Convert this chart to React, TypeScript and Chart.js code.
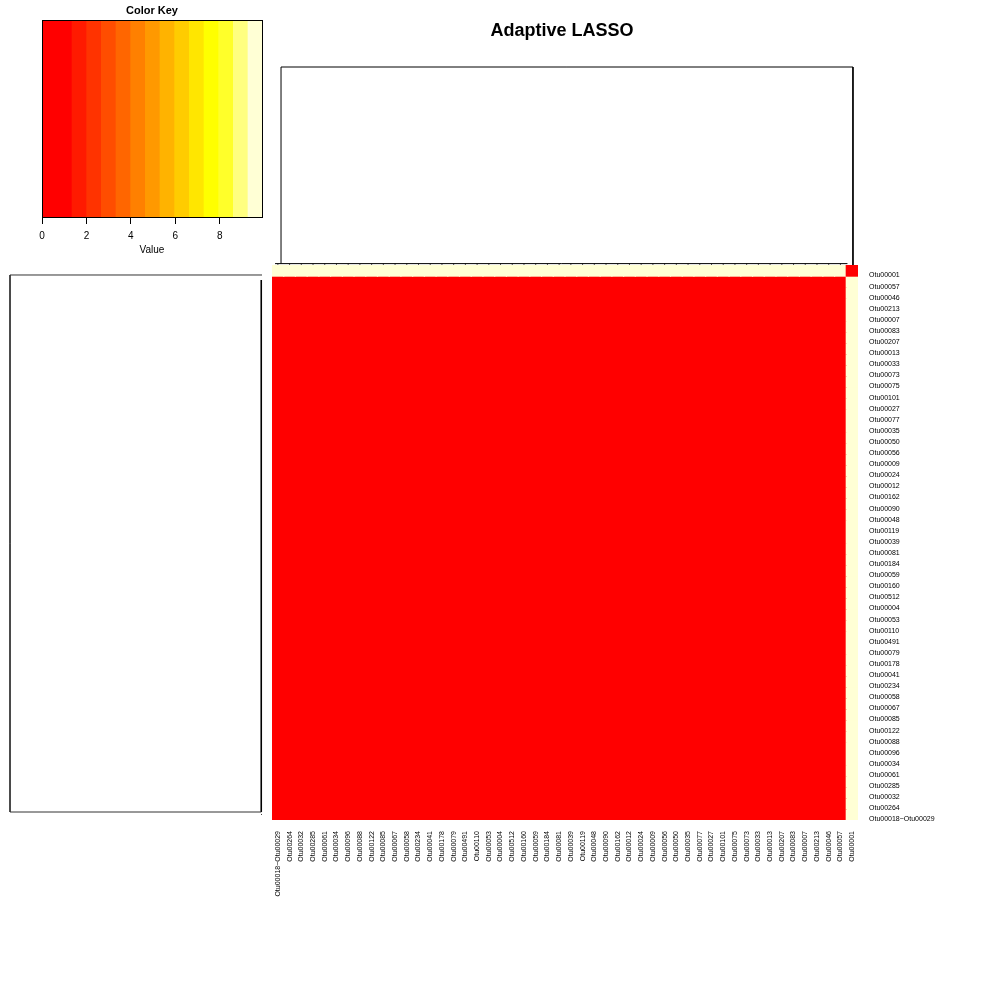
import React, { useEffect, useRef } from "react";
import { Chart, registerables } from "chart.js";

Chart.register(...registerables);

const FONT = "'Liberation Sans', Arial, Helvetica, sans-serif";
Chart.defaults.font.family = FONT;
Chart.defaults.color = "#000";

// ---------------- data ----------------
const rowLabels = [
  "Otu00001", "Otu00057", "Otu00046", "Otu00213", "Otu00007", "Otu00083", "Otu00207", "Otu00013", "Otu00033", "Otu00073",
  "Otu00075", "Otu00101", "Otu00027", "Otu00077", "Otu00035", "Otu00050", "Otu00056", "Otu00009", "Otu00024", "Otu00012",
  "Otu00162", "Otu00090", "Otu00048", "Otu00119", "Otu00039", "Otu00081", "Otu00184", "Otu00059", "Otu00160", "Otu00512",
  "Otu00004", "Otu00053", "Otu00110", "Otu00491", "Otu00079", "Otu00178", "Otu00041", "Otu00234", "Otu00058", "Otu00067",
  "Otu00085", "Otu00122", "Otu00088", "Otu00096", "Otu00034", "Otu00061", "Otu00285", "Otu00032", "Otu00264", "Otu00018~Otu00029",
];

const colLabels = [
  "Otu00018~Otu00029", "Otu00264", "Otu00032", "Otu00285", "Otu00061", "Otu00034", "Otu00096", "Otu00088", "Otu00122", "Otu00085",
  "Otu00067", "Otu00058", "Otu00234", "Otu00041", "Otu00178", "Otu00079", "Otu00491", "Otu00110", "Otu00053", "Otu00004",
  "Otu00512", "Otu00160", "Otu00059", "Otu00184", "Otu00081", "Otu00039", "Otu00119", "Otu00048", "Otu00090", "Otu00162",
  "Otu00012", "Otu00024", "Otu00009", "Otu00056", "Otu00050", "Otu00035", "Otu00077", "Otu00027", "Otu00101", "Otu00075",
  "Otu00073", "Otu00033", "Otu00013", "Otu00207", "Otu00083", "Otu00007", "Otu00213", "Otu00046", "Otu00057", "Otu00001",
];

// values of the Otu00001 row, left to right over the columns
const otu00001RowValues = [
  9.8, 9.8, 9.8, 9.8, 9.8, 9.8, 9.8, 9.8, 9.8, 9.8,
  9.8, 9.8, 9.8, 9.8, 9.8, 9.8, 9.8, 9.8, 9.8, 9.8,
  9.8, 9.8, 9.8, 9.8, 9.8, 9.8, 9.8, 9.8, 9.8, 9.8,
  9.8, 9.8, 9.8, 9.8, 9.8, 9.8, 9.8, 9.8, 9.8, 9.8,
  9.8, 9.8, 9.8, 9.8, 9.8, 9.8, 9.8, 9.8, 9.8, 0,
];
// values of the Otu00001 column, top to bottom over the rows
const otu00001ColumnValues = [
  0, 9.8, 9.8, 9.8, 9.8, 9.8, 9.8, 9.8, 9.8, 9.8,
  9.8, 9.8, 9.8, 9.8, 9.8, 9.8, 9.8, 9.8, 9.8, 9.8,
  9.8, 9.8, 9.8, 9.8, 9.8, 9.8, 9.8, 9.8, 9.8, 9.8,
  9.8, 9.8, 9.8, 9.8, 9.8, 9.8, 9.8, 9.8, 9.8, 9.8,
  9.8, 9.8, 9.8, 9.8, 9.8, 9.8, 9.8, 9.8, 9.8, 9.8,
];
// every other cell
const otherCellValue = 0;

// color key
const keyBreaks = [0, 1.32, 1.98, 2.64, 3.3, 3.96, 4.62, 5.28, 5.94, 6.6, 7.26, 7.92, 8.58, 9.24, 9.9];
const keyColors = [
  "#FF0000", "#FF1A00", "#FF3300", "#FF4D00", "#FF6600", "#FF8000", "#FF9900",
  "#FFB300", "#FFCC00", "#FFE600", "#FFFF00", "#FFFF2A", "#FFFF80", "#FFFFD5",
];
const keyTicks = [0, 2, 4, 6, 8];

// column dendrogram (top): x in column units, y in merge height
const colDendroRootHeight = 1;
const colDendroClusterHeight = 0.007;
const colDendroClusterBranchX = 0.77;
const colDendroSingletonX = 49.57;
const colDendroClusterSpan = [0.26, 49.1];

// row dendrogram (left): y in row units, x in merge height
const rowDendroRootHeight = 1;
const rowDendroClusterHeight = 0.003;
const rowDendroSingletonY = 0.9;
const rowDendroClusterBranchY = 49.28;
const rowDendroClusterSpan = [1.35, 49.28];

// ---------------- layout ----------------
const HEAT_LEFT = 272;
const HEAT_RIGHT = 858;
const HEAT_TOP = 265;
const HEAT_BOTTOM = 820;

function colorFor(v: number): string {
  for (let i = 0; i < keyColors.length; i++) {
    if (v >= keyBreaks[i] && v <= keyBreaks[i + 1]) return keyColors[i];
  }
  return keyColors[keyColors.length - 1];
}

function cellValue(r: number, c: number): number {
  if (r === 0) return otu00001RowValues[c];
  if (c === colLabels.length - 1) return otu00001ColumnValues[r];
  return otherCellValue;
}

const framePlugin = {
  id: "frame",
  afterDatasetsDraw(chart: any) {
    const { ctx, chartArea: a } = chart;
    ctx.save();
    ctx.strokeStyle = "#000";
    ctx.lineWidth = 1;
    ctx.strokeRect(Math.round(a.left) + 0.5, Math.round(a.top) + 0.5, Math.round(a.right - a.left), Math.round(a.bottom - a.top));
    ctx.restore();
  },
};

function ChartCanvas(props: { left: number; top: number; width: number; height: number; make: () => any }) {
  const ref = useRef<HTMLCanvasElement | null>(null);
  useEffect(() => {
    if (!ref.current) return;
    const chart = new Chart(ref.current, props.make());
    return () => chart.destroy();
  }, []);
  return (
    <canvas
      ref={ref}
      width={props.width}
      height={props.height}
      style={{ position: "absolute", left: props.left, top: props.top, width: props.width, height: props.height }}
    />
  );
}

const lineDs = (data: any[], width = 1, color = "#000") => ({
  data,
  showLine: true,
  borderColor: color,
  borderWidth: width,
  pointRadius: 0,
  fill: false,
  spanGaps: false,
  clip: false,
});

// ---------- color key ----------
function makeKey() {
  return {
    type: "bar",
    data: {
      labels: ["key"],
      datasets: keyColors.map((col, i) => ({
        data: [[keyBreaks[i], keyBreaks[i + 1]]],
        backgroundColor: col,
        borderWidth: 0,
        grouped: false,
        barPercentage: 1,
        categoryPercentage: 1,
      })),
    },
    options: {
      indexAxis: "y",
      animation: false,
      responsive: false,
      events: [],
      layout: { padding: { left: 20, right: 20, top: 0, bottom: 0 } },
      plugins: {
        legend: { display: false },
        tooltip: { enabled: false },
        title: {
          display: true,
          text: "Color Key",
          color: "#000",
          font: { family: FONT, size: 11, weight: "bold" },
          padding: { top: 4, bottom: 2.8 },
        },
      },
      scales: {
        x: {
          type: "linear",
          min: keyBreaks[0],
          max: keyBreaks[keyBreaks.length - 1],
          position: "bottom",
          afterBuildTicks: (axis: any) => {
            axis.ticks = keyTicks.map((v) => ({ value: v }));
          },
          afterFit: (axis: any) => {
            axis.height = 45;
          },
          grid: { display: true, drawOnChartArea: false, drawTicks: true, tickLength: 7, color: "#000", lineWidth: 1 },
          border: { display: true, color: "#000" },
          ticks: { font: { family: FONT, size: 10 }, color: "#000", padding: 6, autoSkip: false, maxRotation: 0 },
          title: { display: true, text: "Value", font: { family: FONT, size: 10 }, color: "#000", padding: { top: 0, bottom: 6 } },
        },
        y: { display: false },
      },
    },
    plugins: [framePlugin],
  };
}

// ---------- heatmap ----------
function makeHeatmap() {
  const W = 738;
  const H = 745;
  const padLeft = HEAT_LEFT - 262;
  const padTop = HEAT_TOP - 255;
  return {
    type: "bar",
    data: {
      labels: colLabels,
      datasets: rowLabels.map((_, r) => ({
        data: colLabels.map(() => [r, r + 1]),
        backgroundColor: colLabels.map((_, c) => colorFor(cellValue(r, c))),
        borderWidth: 0,
        inflateAmount: 0.6,
        grouped: false,
        barPercentage: 1,
        categoryPercentage: 1,
      })),
    },
    options: {
      animation: false,
      responsive: false,
      events: [],
      layout: { padding: { left: padLeft, top: padTop, right: 0, bottom: 0 } },
      plugins: { legend: { display: false }, tooltip: { enabled: false }, title: { display: false } },
      scales: {
        x: {
          type: "category",
          position: "bottom",
          afterFit: (axis: any) => {
            axis.height = H - padTop - (HEAT_BOTTOM - HEAT_TOP);
          },
          grid: { display: false, drawTicks: true, tickLength: 11 },
          border: { display: false },
          ticks: {
            autoSkip: false,
            minRotation: 90,
            maxRotation: 90,
            padding: 0,
            font: { family: FONT, size: 7 },
            color: "#000",
          },
        },
        y: {
          type: "linear",
          position: "right",
          min: 0,
          max: rowLabels.length,
          reverse: true,
          afterBuildTicks: (axis: any) => {
            axis.ticks = rowLabels.map((_, i) => ({ value: i + 0.5 }));
          },
          afterFit: (axis: any) => {
            axis.width = W - padLeft - (HEAT_RIGHT - HEAT_LEFT);
          },
          grid: { display: false, drawTicks: true, tickLength: 11 },
          border: { display: false },
          ticks: {
            autoSkip: false,
            padding: 0,
            labelOffset: 5,
            font: { family: FONT, size: 7 },
            color: "#000",
            callback: (v: number) => rowLabels[Math.floor(v)],
          },
        },
      },
    },
  };
}

// ---------- top (column) dendrogram + main title ----------
function makeTopDendro() {
  const canvasLeft = 262;
  const canvasWidth = 600;
  const cellW = (HEAT_RIGHT - HEAT_LEFT) / colLabels.length;
  const xMin = -(HEAT_LEFT - canvasLeft) / cellW;
  const xMax = xMin + canvasWidth / cellW;
  const ticks: any[] = [];
  for (let c = 0; c < colLabels.length - 1; c++) {
    ticks.push({ x: c + 0.5, y: 0 }, { x: c + 0.5, y: colDendroClusterHeight }, { x: c + 0.5, y: null });
  }
  return {
    type: "scatter",
    data: {
      datasets: [
        lineDs([
          { x: colDendroClusterBranchX, y: colDendroClusterHeight },
          { x: colDendroClusterBranchX, y: colDendroRootHeight },
          { x: colDendroSingletonX, y: colDendroRootHeight },
          { x: colDendroSingletonX, y: 0 },
        ]),
        lineDs([
          { x: colDendroClusterSpan[0], y: colDendroClusterHeight },
          { x: colDendroClusterSpan[1], y: colDendroClusterHeight },
        ]),
        lineDs(ticks, 1, "#555"),
      ],
    },
    options: {
      animation: false,
      responsive: false,
      events: [],
      layout: { padding: { left: 0, right: 0, top: 0, bottom: 270 - HEAT_TOP } },
      plugins: {
        legend: { display: false },
        tooltip: { enabled: false },
        title: {
          display: true,
          text: "Adaptive LASSO",
          color: "#000",
          font: { family: FONT, size: 18, weight: "bold" },
          padding: { top: 20, bottom: 25.4 },
        },
      },
      scales: {
        x: { type: "linear", display: false, min: xMin, max: xMax },
        y: { type: "linear", display: false, min: 0, max: colDendroRootHeight },
      },
    },
  };
}

// ---------- left (row) dendrogram ----------
function makeLeftDendro() {
  const ticks: any[] = [];
  for (let r = 1; r < rowLabels.length; r++) {
    ticks.push({ x: 0, y: r + 0.5 }, { x: rowDendroClusterHeight, y: r + 0.5 }, { x: null, y: r + 0.5 });
  }
  return {
    type: "scatter",
    data: {
      datasets: [
        lineDs([
          { x: 0, y: rowDendroSingletonY },
          { x: rowDendroRootHeight, y: rowDendroSingletonY },
          { x: rowDendroRootHeight, y: rowDendroClusterBranchY },
          { x: rowDendroClusterHeight, y: rowDendroClusterBranchY },
        ], 1, "#333"),
        lineDs([
          { x: rowDendroClusterHeight, y: rowDendroClusterSpan[0] },
          { x: rowDendroClusterHeight, y: rowDendroClusterSpan[1] },
        ], 1.6),
        lineDs(ticks),
      ],
    },
    options: {
      animation: false,
      responsive: false,
      events: [],
      layout: { padding: { left: 10, right: 10, top: 0, bottom: 0 } },
      plugins: { legend: { display: false }, tooltip: { enabled: false } },
      scales: {
        x: { type: "linear", display: false, min: 0, max: rowDendroRootHeight, reverse: true },
        y: { type: "linear", display: false, min: 0, max: rowLabels.length, reverse: true },
      },
    },
  };
}

export default function App() {
  return (
    <div style={{ position: "absolute", left: 0, top: 0, width: 1000, height: 1000, background: "#fff", overflow: "hidden" }}>
      <ChartCanvas left={22} top={0} width={260} height={262} make={makeKey} />
      <ChartCanvas left={262} top={0} width={600} height={270} make={makeTopDendro} />
      <ChartCanvas left={0} top={HEAT_TOP} width={272} height={HEAT_BOTTOM - HEAT_TOP} make={makeLeftDendro} />
      <ChartCanvas left={262} top={255} width={738} height={745} make={makeHeatmap} />
    </div>
  );
}
